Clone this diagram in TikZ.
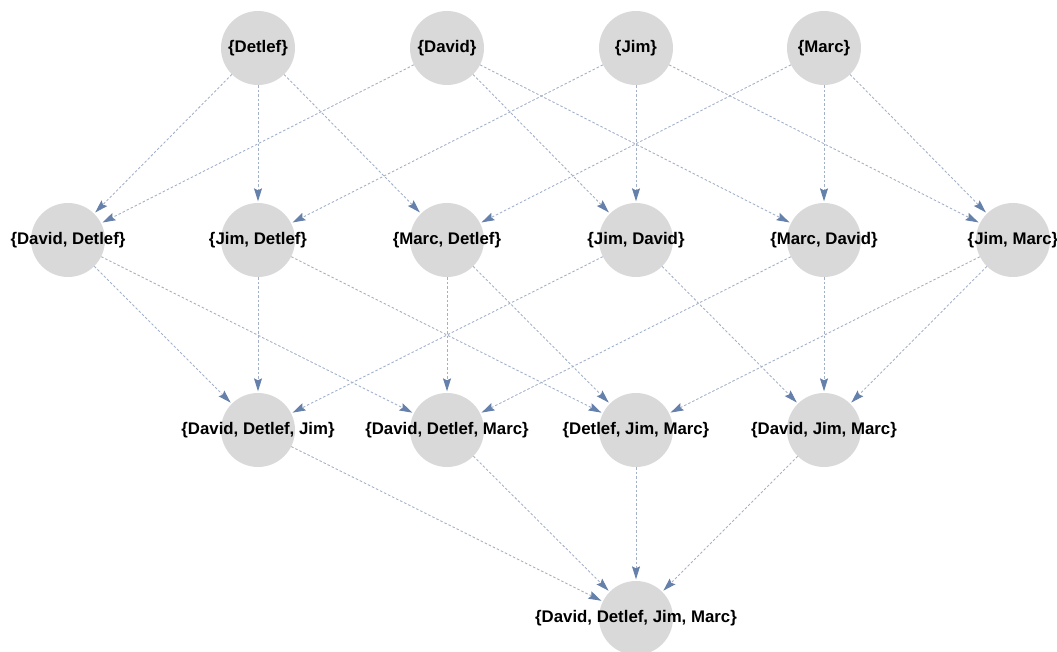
\documentclass[tikz,border=0pt]{standalone}
\usepackage{fontspec}
\setmainfont{Liberation Sans}
\usetikzlibrary{arrows.meta}
\definecolor{nodefill}{HTML}{D9D9D9}
\definecolor{edgecol}{HTML}{A3B1C8}
\definecolor{tipcol}{HTML}{6580AA}
\tikzset{
  setnode/.style={circle, fill=nodefill, minimum size=74pt, inner sep=0pt},
  lab/.style={font=\fontsize{16.8}{17}\selectfont\bfseries, text=black, inner sep=0pt},
  edge/.style={draw=edgecol, line width=0.9pt, dash pattern=on 2.5pt off 2pt,
    -{Stealth[length=13pt,width=8pt,inset=2pt,fill=tipcol,color=tipcol,sep=1.5pt]}}
}
\begin{document}
\begin{tikzpicture}[x=1pt,y=-1pt]
\useasboundingbox (0,0) rectangle (1057,652);
\begin{scope}
\clip (0,0) rectangle (1057,652);
% row 1
\node[setnode] (a) at (258,48) {};
\node[setnode] (b) at (447,48) {};
\node[setnode] (c) at (636,48) {};
\node[setnode] (d) at (824,48) {};
% row 2
\node[setnode] (ab) at (68,240) {};
\node[setnode] (ac) at (258,240) {};
\node[setnode] (ad) at (447,240) {};
\node[setnode] (bc) at (636,240) {};
\node[setnode] (bd) at (824,240) {};
\node[setnode] (cd) at (1013,240) {};
% row 3
\node[setnode] (abc) at (258,430) {};
\node[setnode] (abd) at (447,430) {};
\node[setnode] (acd) at (636,430) {};
\node[setnode] (bcd) at (824,430) {};
% row 4
\node[setnode] (abcd) at (636,618) {};
% edges
\foreach \s/\t in {a/ab,a/ac,a/ad,b/ab,b/bc,b/bd,c/ac,c/bc,c/cd,d/ad,d/bd,d/cd,
  ab/abc,ab/abd,ac/abc,ac/acd,ad/abd,ad/acd,bc/abc,bc/bcd,bd/abd,bd/bcd,cd/acd,cd/bcd,
  abc/abcd,abd/abcd,acd/abcd,bcd/abcd}
  \draw[edge] (\s) -- (\t);
% labels
\node[lab] (la) at (a) {\{Detlef\}};
\node[lab] (lb) at (b) {\{David\}};
\node[lab] (lc) at (c) {\{Jim\}};
\node[lab] (ld) at (d) {\{Marc\}};
\node[lab] (lab) at (ab) {\{David, Detlef\}};
\node[lab] (lac) at (ac) {\{Jim, Detlef\}};
\node[lab] (lad) at (ad) {\{Marc, Detlef\}};
\node[lab] (lbc) at (bc) {\{Jim, David\}};
\node[lab] (lbd) at (bd) {\{Marc, David\}};
\node[lab] (lcd) at (cd) {\{Jim, Marc\}};
\node[lab] (labc) at (abc) {\{David, Detlef, Jim\}};
\node[lab] (labd) at (abd) {\{David, Detlef, Marc\}};
\node[lab] (lacd) at (acd) {\{Detlef, Jim, Marc\}};
\node[lab] (lbcd) at (bcd) {\{David, Jim, Marc\}};
\node[lab] (labcd) at (abcd) {\{David, Detlef, Jim, Marc\}};
\end{scope}
\end{tikzpicture}
\end{document}
